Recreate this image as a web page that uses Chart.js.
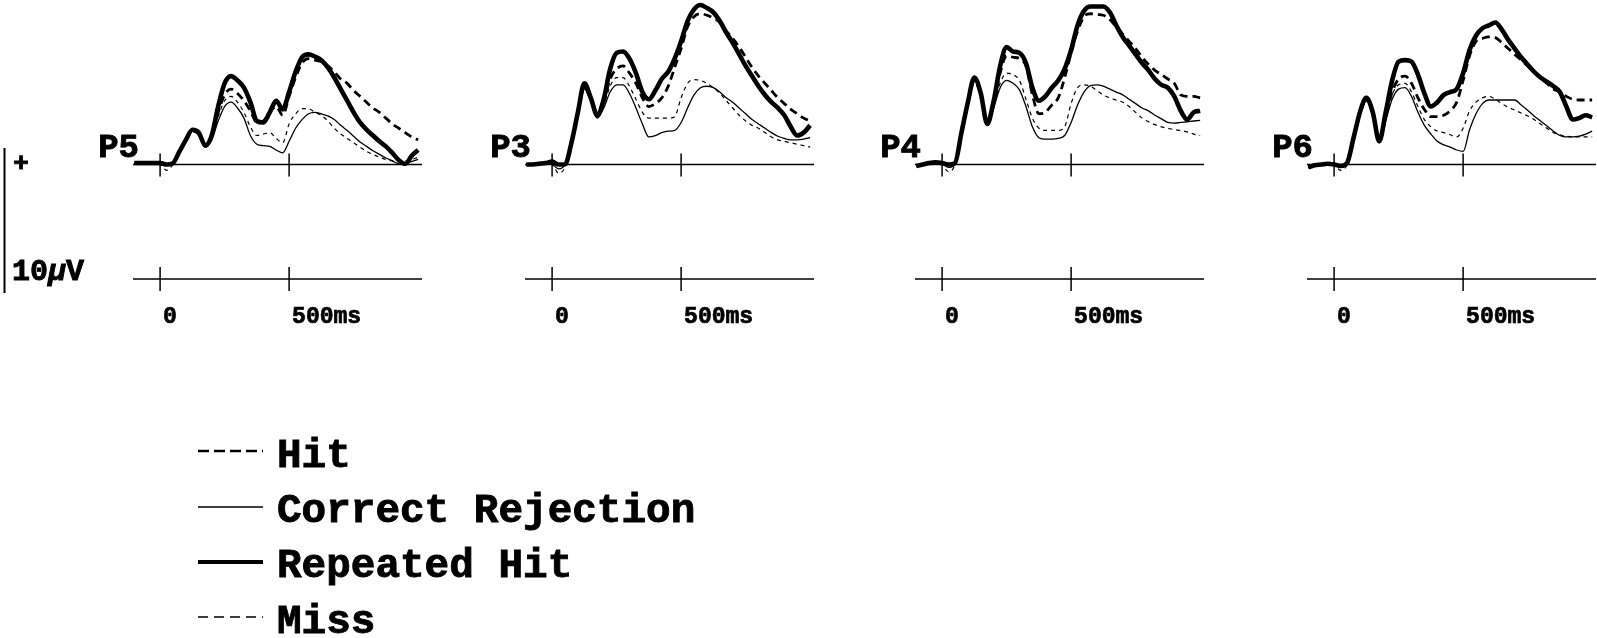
<!DOCTYPE html>
<html>
<head>
<meta charset="utf-8">
<title>ERP waveforms P5 P3 P4 P6</title>
<script src="https://cdn.jsdelivr.net/npm/chart.js@4.4.1/dist/chart.umd.min.js"></script>
<style>
  html, body { margin: 0; padding: 0; background: #fff; }
  body { width: 1597px; height: 638px; position: relative; overflow: hidden; }
  canvas.panel { position: absolute; top: 0; }
  svg.deco { position: absolute; left: 0; top: 0; }
  svg.deco text { font-family: "Liberation Mono", "DejaVu Sans Mono", monospace; font-weight: bold; fill: #000; stroke: #000; stroke-width: 0.9px; }
</style>
</head>
<body>

<canvas class="panel" id="pP5" width="346" height="340"></canvas>
<canvas class="panel" id="pP3" width="346" height="340"></canvas>
<canvas class="panel" id="pP4" width="346" height="340"></canvas>
<canvas class="panel" id="pP6" width="346" height="340"></canvas>

<svg class="deco" width="1597" height="638" viewBox="0 0 1597 638">
  <!-- amplitude scale bar -->
  <line x1="4.5" y1="148" x2="4.5" y2="293" stroke="#000" stroke-width="2"/>
  <text x="21" y="171" text-anchor="middle" font-size="26">+</text>
  <text x="12" y="280" font-size="30">10<tspan font-style="italic">μ</tspan>V</text>

  <!-- legend -->
  <line x1="198" y1="451" x2="263" y2="451" stroke="#000" stroke-width="2.5" stroke-dasharray="11 5"/>
  <text x="277" y="467" font-size="41">Hit</text>
  <line x1="198" y1="507" x2="263" y2="507" stroke="#000" stroke-width="1.5"/>
  <text x="277" y="522" font-size="41">Correct Rejection</text>
  <line x1="198" y1="562" x2="263" y2="562" stroke="#000" stroke-width="4"/>
  <text x="277" y="577" font-size="41">Repeated Hit</text>
  <line x1="198" y1="617" x2="263" y2="617" stroke="#000" stroke-width="1.3" stroke-dasharray="10 6"/>
  <text x="277" y="633" font-size="41">Miss</text>
</svg>

<script>
// Sample times (ms) shared by every waveform
const times = [-100, -75, -50, -25, 0, 25, 50, 75, 100, 125, 150, 175, 200, 225, 250, 275,
  300, 325, 350, 375, 400, 425, 450, 475, 500, 525, 550, 575, 600, 625, 650, 675, 700, 725,
  750, 775, 800, 825, 850, 875, 900, 925, 950, 975, 1000];

// Time axis ticks
const tickTimes = [0, 500];
const tickLabels = ['0', '500ms'];

// Electrode sites, left to right
const sites = ['P5', 'P3', 'P4', 'P6'];

// Conditions (legend order)
const conditions = ['Hit', 'Correct Rejection', 'Repeated Hit', 'Miss'];

// Grand-average amplitudes (µV), positive up
const p5Hit  = [0.1,0.1,0.1,0.1,0.1,0.0,0.1,0.9,1.7,2.3,2.1,1.3,1.9,3.6,4.8,5.2,4.9,4.4,3.7,2.9,3.0,3.6,4.0,3.4,4.7,6.0,7.0,7.3,7.2,7.1,6.8,6.4,5.9,5.6,5.1,4.7,4.3,3.9,3.6,3.2,2.8,2.5,2.2,1.9,1.7];
const p5CR   = [0.05,0.05,0.05,0.05,0.05,0.0,0.05,0.9,1.6,2.3,2.0,1.2,1.7,3.0,4.0,4.3,3.9,3.2,2.0,1.4,1.3,1.25,1.0,0.8,1.6,2.5,3.1,3.5,3.6,3.5,3.35,3.1,2.7,2.35,1.95,1.55,1.25,0.95,0.7,0.45,0.25,0.05,0.1,0.2,0.35];
const p5RH   = [0.1,0.1,0.1,0.1,0.1,0.0,0.1,0.9,1.7,2.4,2.2,1.3,2.0,4.0,5.6,6.1,5.8,5.3,4.3,3.0,2.9,3.6,4.4,3.8,5.0,6.4,7.4,7.6,7.45,7.2,6.7,6.0,5.2,4.4,3.6,2.9,2.4,2.0,1.6,1.25,0.8,0.3,0.05,0.6,1.0];
const p5Miss = [0.05,0.05,0.05,0.05,0.0,-0.4,0.0,0.9,1.6,2.3,2.0,1.25,1.8,3.3,4.4,4.7,4.3,3.6,2.6,2.0,2.1,2.2,1.8,1.5,2.8,3.5,3.85,3.85,3.6,3.4,3.0,2.5,2.1,1.8,1.5,1.2,0.9,0.7,0.5,0.35,0.25,0.2,0.25,0.35,0.5];

const p3Hit  = [0.0,0.0,0.05,0.1,0.2,0.0,0.0,1.5,3.5,5.4,4.5,3.3,4.3,5.9,6.6,6.8,6.3,5.6,4.6,4.0,4.2,4.6,5.4,6.7,8.0,9.5,10.2,10.4,10.3,10.1,9.8,9.2,8.7,8.1,7.4,6.7,6.1,5.6,5.1,4.6,4.2,3.8,3.5,3.2,3.0];
const p3CR   = [0.0,0.0,0.0,0.05,0.0,-0.3,0.0,1.5,3.5,5.2,4.4,3.2,3.9,5.0,5.5,5.5,4.9,3.9,2.8,1.9,2.0,2.2,2.3,2.35,2.9,3.9,4.8,5.3,5.4,5.3,5.0,4.6,4.3,3.9,3.5,3.1,2.8,2.5,2.2,1.95,1.8,1.7,1.7,1.75,1.85];
const p3RH   = [0.0,0.0,0.05,0.1,0.2,0.0,0.0,1.5,3.6,5.6,4.6,3.4,4.5,6.6,7.7,7.8,7.3,6.3,5.0,4.5,5.1,5.9,6.4,7.3,8.5,9.9,10.7,11.0,10.8,10.5,9.9,9.1,8.4,7.6,6.8,6.1,5.4,4.8,4.3,3.9,3.4,2.6,2.0,2.2,2.7];
const p3Miss = [0.0,0.0,0.0,0.05,0.0,-0.6,-0.2,1.4,3.4,5.1,4.4,3.2,4.1,5.4,6.0,6.0,5.4,4.5,3.6,3.2,3.2,3.2,3.2,3.3,4.6,5.6,5.85,5.8,5.6,5.3,4.9,4.4,3.9,3.4,3.0,2.7,2.5,2.2,1.9,1.7,1.6,1.5,1.4,1.3,1.2];

const p4Hit  = [-0.1,0.0,0.1,0.15,0.1,0.0,0.1,2.2,4.2,5.8,4.8,2.8,4.2,6.3,7.5,7.4,7.3,6.8,4.8,3.5,3.6,4.1,4.6,6.0,7.7,9.2,10.2,10.4,10.35,10.3,10.0,9.5,9.0,8.5,8.0,7.4,6.9,6.5,6.2,5.9,5.6,4.8,4.7,4.7,4.6];
const p4CR   = [-0.1,0.0,0.05,0.1,0.05,-0.2,0.0,2.1,4.2,5.8,4.8,2.8,3.9,5.3,5.8,5.6,5.15,4.0,2.6,1.85,1.75,1.75,1.8,2.0,2.9,4.1,5.0,5.45,5.5,5.4,5.2,5.0,4.8,4.5,4.2,3.9,3.7,3.4,3.15,2.9,2.85,2.9,2.95,3.0,3.05];
const p4RH   = [-0.1,0.0,0.1,0.15,0.1,0.0,0.1,2.2,4.3,6.0,4.9,2.8,4.4,6.8,8.1,7.8,7.7,7.0,5.3,4.4,4.7,5.3,5.8,6.6,7.9,9.6,10.6,10.9,10.9,10.9,10.5,9.6,8.8,8.2,7.6,7.0,6.5,5.9,5.5,5.3,4.7,3.7,3.1,3.6,3.7];
const p4Miss = [-0.1,0.0,0.1,0.1,0.0,-0.5,0.0,2.1,4.1,5.7,4.8,2.8,4.0,5.6,6.3,6.2,5.8,4.5,3.2,2.5,2.35,2.35,2.35,2.6,4.2,5.3,5.5,5.4,5.1,4.8,4.6,4.45,4.3,4.0,3.6,3.2,2.95,2.75,2.6,2.5,2.4,2.35,2.25,2.1,2.0];

const p6Hit  = [-0.2,-0.05,0.0,0.05,0.0,-0.1,0.1,1.8,3.6,4.5,3.5,1.6,3.3,5.0,5.9,6.1,5.6,4.6,3.8,3.3,3.3,3.4,3.7,4.3,5.8,7.5,8.5,8.7,8.8,8.75,8.4,8.0,7.6,7.2,6.8,6.4,6.0,5.6,5.2,5.0,4.7,4.5,4.45,4.45,4.45];
const p6CR   = [-0.2,-0.05,0.0,0.0,0.0,-0.2,0.0,1.7,3.4,4.4,3.5,1.5,3.0,4.5,5.2,5.3,4.7,3.6,2.7,2.1,1.6,1.35,1.2,1.0,0.9,2.4,3.5,4.2,4.45,4.45,4.45,4.45,4.45,4.1,3.75,3.35,3.0,2.65,2.3,2.0,1.9,1.9,1.95,2.1,2.3];
const p6RH   = [-0.2,-0.05,0.0,0.05,0.0,-0.1,0.1,1.8,3.6,4.6,3.6,1.6,3.6,5.8,7.1,7.2,7.1,6.2,4.9,4.0,4.3,4.8,5.0,5.2,6.3,7.9,8.9,9.4,9.6,9.8,9.3,8.6,8.0,7.4,6.9,6.4,6.0,5.7,5.4,5.0,4.0,3.1,3.2,3.4,3.25];
const p6Miss = [-0.2,-0.05,0.0,0.05,0.0,-0.4,0.0,1.7,3.4,4.4,3.5,1.5,3.1,4.8,5.5,5.6,5.0,4.0,3.1,2.6,2.3,2.2,2.05,1.9,2.5,3.7,4.3,4.6,4.7,4.5,4.2,3.95,3.75,3.55,3.35,3.1,2.8,2.5,2.2,2.05,1.95,1.9,1.9,1.9,1.9];

// Per-site waveform sets in condition order
const siteData = {
  P5: [p5Hit, p5CR, p5RH, p5Miss],
  P3: [p3Hit, p3CR, p3RH, p3Miss],
  P4: [p4Hit, p4CR, p4RH, p4Miss],
  P6: [p6Hit, p6CR, p6RH, p6Miss]
};

// Trace styling per condition; Repeated Hit is drawn on top
const traceStyle = [
  { width: 2.8, dash: [8, 5], order: 1 },
  { width: 1.3, dash: [],     order: 2 },
  { width: 4.6, dash: [],     order: 0 },
  { width: 1.2, dash: [4, 4], order: 3 }
];

// Plot-area left edges and shared layout
const plotLeft = [133, 525, 915, 1307];
const PAD = { left: 45, right: 12, top: 0, bottom: 61 };
const FONT = '"Liberation Mono", "DejaVu Sans Mono", monospace';

// Heavy text: fill plus a thin outline of the same colour
function heavyText(ctx, str, x, y) {
  ctx.fillText(str, x, y);
  ctx.strokeText(str, x, y);
}

// Draws the zero line, the time axis below it, their tick marks, tick labels and site name
const erpFrame = {
  id: 'erpFrame',
  beforeDatasetsDraw(chart, args, opts) {
    const { ctx, chartArea: a, scales: { x, y } } = chart;
    const yZero = y.getPixelForValue(0);
    const yTime = a.bottom;
    const left = x.getPixelForValue(x.min);
    const right = x.getPixelForValue(x.max);
    ctx.save();
    ctx.strokeStyle = '#000';
    ctx.lineWidth = 1.5;
    [[yZero, 11, 12], [yTime, 12, 12]].forEach(([yy, up, down]) => {
      ctx.beginPath();
      ctx.moveTo(left, yy);
      ctx.lineTo(right, yy);
      ctx.stroke();
      tickTimes.forEach(t => {
        const px = x.getPixelForValue(t);
        ctx.beginPath();
        ctx.moveTo(px, yy - up);
        ctx.lineTo(px, yy + down);
        ctx.stroke();
      });
    });
    ctx.fillStyle = '#000';
    ctx.lineWidth = 0.7;
    ctx.textBaseline = 'alphabetic';
    ctx.textAlign = 'left';
    ctx.font = 'bold 23px ' + FONT;
    tickTimes.forEach((t, i) => {
      heavyText(ctx, tickLabels[i], x.getPixelForValue(t) + 3, yTime + 44);
    });
    ctx.textAlign = 'right';
    ctx.font = 'bold 34px ' + FONT;
    ctx.lineWidth = 0.9;
    heavyText(ctx, opts.site, left + 6, yZero - 8);
    ctx.restore();
  }
};

sites.forEach((site, si) => {
  const canvas = document.getElementById('p' + site);
  canvas.style.left = (plotLeft[si] - PAD.left) + 'px';
  const datasets = conditions.map((name, ci) => ({
    label: name,
    data: siteData[site][ci].map((v, i) => ({ x: times[i], y: v })),
    borderColor: '#000',
    borderWidth: traceStyle[ci].width,
    borderDash: traceStyle[ci].dash,
    order: traceStyle[ci].order,
    pointRadius: 0,
    fill: false,
    cubicInterpolationMode: 'monotone',
    borderJoinStyle: 'round',
    borderCapStyle: 'butt',
    clip: false
  }));
  new Chart(canvas, {
    type: 'line',
    data: { datasets },
    options: {
      responsive: false,
      animation: false,
      events: [],
      layout: { padding: PAD },
      scales: {
        x: { type: 'linear', min: -105, max: 1015, display: false },
        y: { type: 'linear', min: -7.9, max: 11.35, display: false }
      },
      plugins: {
        legend: { display: false },
        tooltip: { enabled: false },
        erpFrame: { site }
      }
    },
    plugins: [erpFrame]
  });
});
</script>
</body>
</html>
